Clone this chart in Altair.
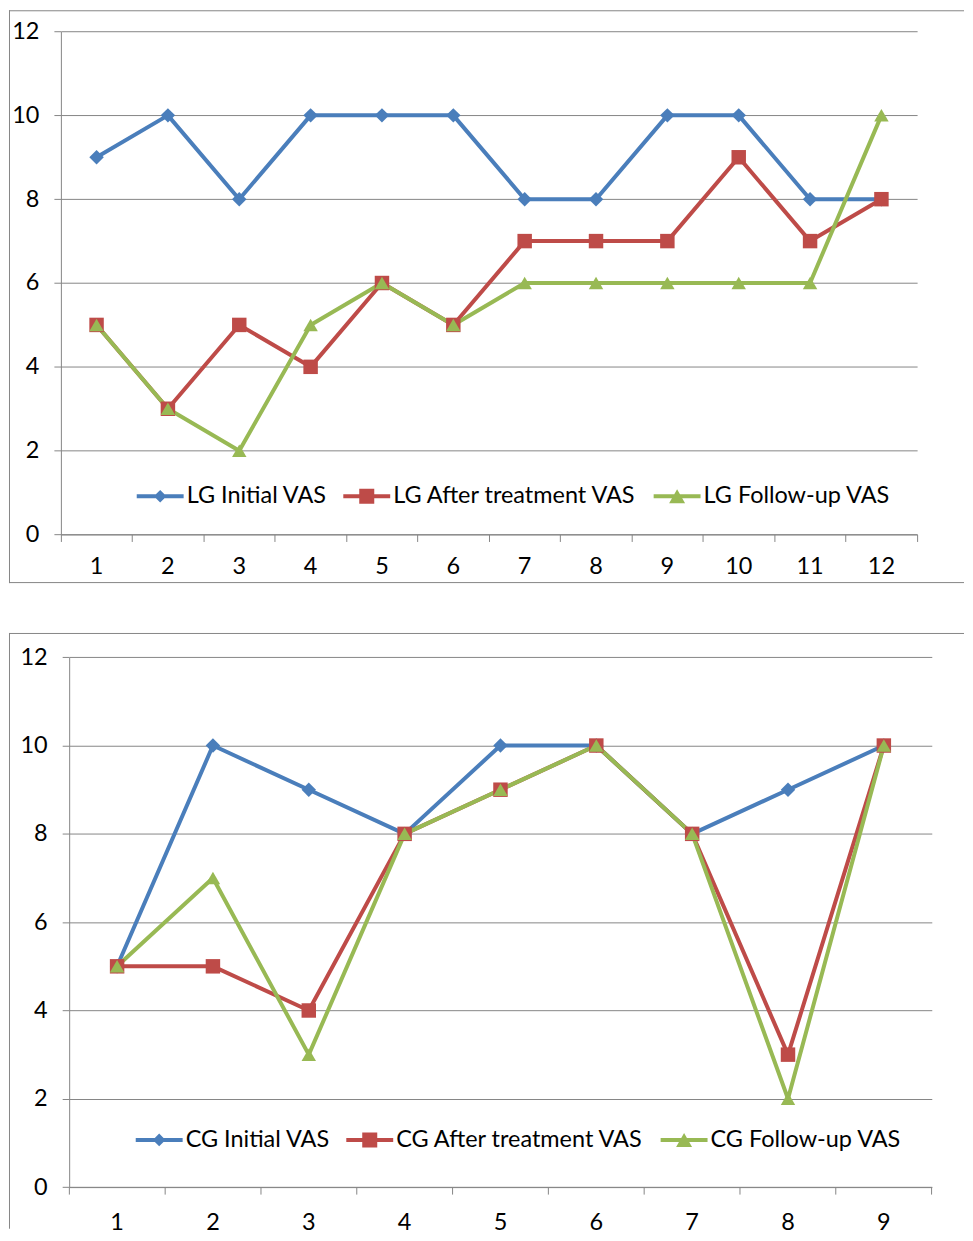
import altair as alt
import pandas as pd

# ---------------- data ----------------
lg_x = [1, 2, 3, 4, 5, 6, 7, 8, 9, 10, 11, 12]
lg_initial = [9, 10, 8, 10, 10, 10, 8, 8, 10, 10, 8, 8]
lg_after = [5, 3, 5, 4, 6, 5, 7, 7, 7, 9, 7, 8]
lg_follow = [5, 3, 2, 5, 6, 5, 6, 6, 6, 6, 6, 10]
lg_labels = ["LG Initial VAS", "LG After treatment VAS", "LG Follow-up VAS"]

cg_x = [1, 2, 3, 4, 5, 6, 7, 8, 9]
cg_initial = [5, 10, 9, 8, 10, 10, 8, 9, 10]
cg_after = [5, 5, 4, 8, 9, 10, 8, 3, 10]
cg_follow = [5, 7, 3, 8, 9, 10, 8, 2, 10]
cg_labels = ["CG Initial VAS", "CG After treatment VAS", "CG Follow-up VAS"]

y_ticks = [0, 2, 4, 6, 8, 10, 12]

# ---------------- style ----------------
series_keys = ["Initial", "After", "Follow"]
colors = ["#4A7EBB", "#BE4B48", "#98B954"]
point_shapes = ["diamond", "square", "triangle-up"]
point_size = 210
legend_shapes = [
    "M-1,-0.085H1V0.085H-1Z M0,-0.27L0.27,0L0,0.27L-0.27,0Z",
    "M-1,-0.085H1V0.085H-1Z M-0.32,-0.32H0.32V0.32H-0.32Z",
    "M-1,-0.085H1V0.085H-1Z M0,-0.3L0.34,0.3H-0.34Z",
]
GRAY = "#868686"
FONT = "Lato"
FS = 23.5


def panel(xs, series, labels, w, h, pl, pr, pt, pb, lx, ly, lpad, frame_bottom):
    rows = []
    for key, vals in zip(series_keys, series):
        for x, v in zip(xs, vals):
            rows.append({"x": x, "v": v, "s": key})
    df = pd.DataFrame(rows)
    leg = pd.DataFrame({"s": labels, "x": [xs[0]] * 3, "v": [0] * 3})

    domain = labels + series_keys
    cscale = alt.Scale(domain=domain, range=colors + colors)
    sscale = alt.Scale(domain=domain, range=legend_shapes + point_shapes)
    xscale = alt.Scale(type="band", domain=xs, range=[pl, pr], paddingInner=0, paddingOuter=0)
    yscale = alt.Scale(domain=[0, 12], range=[pb, pt], nice=False, zero=False)

    xaxis = alt.Axis(
        orient="bottom", offset=-(h - pb), title=None, grid=False,
        domainColor=GRAY, domainWidth=1,
        tickColor=GRAY, tickSize=7, tickWidth=1, bandPosition=1, tickExtra=True,
        labelAngle=0, labelPadding=lpad,
        labelFont=FONT, labelFontSize=FS, labelColor="#000000",
    )
    yaxis = alt.Axis(
        orient="left", offset=-pl, values=y_ticks, title=None,
        grid=True, gridColor=GRAY, gridWidth=1,
        domainColor=GRAY, domainWidth=1, tickColor=GRAY, tickSize=7, tickWidth=1,
        labelPadding=15, labelFont=FONT, labelFontSize=FS, labelColor="#000000",
    )
    legend = alt.Legend(
        orient="none", legendX=lx, legendY=ly, direction="horizontal",
        values=labels, title=None, symbolSize=2209, symbolStrokeWidth=0,
        symbolOpacity=1, labelFont=FONT, labelFontSize=FS, labelColor="#000000",
        labelOffset=3, columnPadding=16, padding=0, labelLimit=500,
    )

    one = pd.DataFrame({"f": [0]})
    frame = [
        alt.Chart(one).mark_rule(color=GRAY, strokeWidth=1).encode(
            x=alt.value(0), x2=alt.value(w), y=alt.value(0.5)),
        alt.Chart(one).mark_rule(color=GRAY, strokeWidth=1).encode(
            x=alt.value(0.5), y=alt.value(0), y2=alt.value(h)),
    ]
    if frame_bottom:
        frame.append(alt.Chart(one).mark_rule(color=GRAY, strokeWidth=1).encode(
            x=alt.value(0), x2=alt.value(w), y=alt.value(h - 0.5)))

    lines = alt.Chart(df).mark_line(strokeWidth=4, strokeJoin="round").encode(
        x=alt.X("x:O", scale=xscale, axis=xaxis),
        y=alt.Y("v:Q", scale=yscale, axis=yaxis),
        color=alt.Color("s:N", scale=cscale, legend=legend),
    )
    points = alt.Chart(df).mark_point(filled=True, opacity=1, size=point_size, strokeWidth=0).encode(
        x=alt.X("x:O", scale=xscale, axis=xaxis),
        y=alt.Y("v:Q", scale=yscale, axis=yaxis),
        color=alt.Color("s:N", scale=cscale, legend=legend),
        shape=alt.Shape("s:N", scale=sscale, legend=legend),
    )
    legend_layer = alt.Chart(leg).mark_point(filled=True, opacity=0, size=2209, strokeWidth=0).encode(
        x=alt.X("x:O", scale=xscale, axis=xaxis),
        y=alt.Y("v:Q", scale=yscale, axis=yaxis),
        color=alt.Color("s:N", scale=cscale, legend=legend),
        shape=alt.Shape("s:N", scale=sscale, legend=legend),
    )
    return alt.layer(*frame, lines, points, legend_layer).properties(width=w, height=h)


top = panel(lg_x, [lg_initial, lg_after, lg_follow], lg_labels,
            957, 574, 52, 910, 21.3, 525.3, 128, 463.5, 13, True)
bottom = panel(cg_x, [cg_initial, cg_after, cg_follow], cg_labels,
               957, 597, 60.3, 924.7, 24.3, 555.3, 127, 484.5, 16, False)

chart = (
    alt.vconcat(top, bottom, spacing=48)
    .resolve_scale(color="independent", shape="independent")
    .resolve_legend(color="independent", shape="independent")
    .properties(padding=0, background="white")
    .configure_view(stroke=None)
)

chart.save("out.html", embed_options={"renderer": "svg", "actions": False})
